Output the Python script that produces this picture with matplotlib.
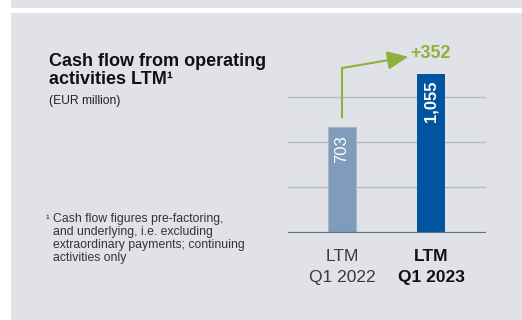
import matplotlib.pyplot as plt
from matplotlib.patches import Rectangle

# data
categories = ['LTM\nQ1 2022', 'LTM\nQ1 2023']
values = [703, 1055]
value_labels = ['703', '1,055']
grid_values = [300, 600, 900]

plt.rcParams['font.family'] = ['Liberation Sans', 'DejaVu Sans']

panel_bg = '#e1e2e8'
light_bar = '#7f9dba'
dark_bar = '#0054a0'
green = '#8cb13c'

fig = plt.figure(figsize=(5.22, 3.2), dpi=100)
fig.patch.set_facecolor('white')

W, H = 522, 320
# top strip and main panel
fig.patches.append(Rectangle((11 / W, 1 - 8 / H), 1, 8 / H, transform=fig.transFigure,
                             facecolor=panel_bg, edgecolor='none', zorder=-5))
fig.patches.append(Rectangle((11 / W, 0), 1, 1 - 13 / H, transform=fig.transFigure,
                             facecolor=panel_bg, edgecolor='none', zorder=-5))

# axes placement (pixel based)
ax_left, ax_right = 288, 486
ax_bottom, ax_top = 232.7, 40
ax = fig.add_axes([ax_left / W, 1 - ax_bottom / H, (ax_right - ax_left) / W, (ax_bottom - ax_top) / H])
ax.set_facecolor('none')
ax.set_xlim(-0.607, 1.618)
ax.set_ylim(0, 1278)

for g in grid_values:
    ax.axhline(g, color='#b3bac6', lw=1.0, zorder=1)

x = range(len(values))
bars = ax.bar(x, values, width=0.32, color=[light_bar, dark_bar], zorder=2)
bars[0].set_edgecolor('#a3b5c8')
bars[0].set_linewidth(0.8)
ax.axhline(0, color='#5c6d80', lw=1.6, zorder=3)

# values inside bars
ax.text(0, values[0] - 55, value_labels[0], rotation=90, ha='center', va='top',
        color='white', fontsize=12, zorder=4)
ax.text(1, values[1] - 45, value_labels[1], rotation=90, ha='center', va='top',
        color='white', fontsize=12, fontweight='bold', zorder=4)

# difference arrow
diff = values[1] - values[0]
ax.plot([0, 0], [values[0] + 57, values[1] + 37], color=green, lw=1.5,
        solid_capstyle='butt', zorder=4, clip_on=False)
ax.annotate('', xy=(0.745, values[1] + 112), xytext=(0, values[1] + 37),
            arrowprops=dict(arrowstyle='-|>,head_length=0.8,head_width=0.35',
                            color=green, lw=1.5,
                            mutation_scale=16, shrinkA=0, shrinkB=0),
            annotation_clip=False, zorder=4)
ax.text(0.765, values[1] + 135, f'+{diff}', color=green, fontsize=13,
        fontweight='bold', ha='left', va='center')

for s in ax.spines.values():
    s.set_visible(False)
ax.set_yticks([])
ax.set_xticks([])

# category labels
for i, cat in enumerate(categories):
    top, bottom = cat.split('\n')
    weight = 'bold' if i == 1 else 'normal'
    col = '#111111' if i == 1 else '#3a3a3a'
    ax.text(i, -160, top, ha='center', va='center', fontsize=12.5,
            fontweight=weight, color=col)
    ax.text(i, -295, bottom, ha='center', va='center', fontsize=12.5,
            fontweight=weight, color=col)

# title and notes
fig.text(49 / W, 1 - 61 / H, 'Cash flow from operating', fontsize=13,
         fontweight='bold', color='#111111', va='center')
fig.text(49 / W, 1 - 80 / H, 'activities LTM¹', fontsize=13,
         fontweight='bold', color='#111111', va='center')
fig.text(49 / W, 1 - 101 / H, '(EUR million)', fontsize=8.7, color='#222222', va='center')

fig.text(46 / W, 1 - 219 / H, '¹', fontsize=8, color='#333333', va='center')
notes = ['Cash flow figures pre-factoring,',
         'and underlying, i.e. excluding',
         'extraordinary payments; continuing',
         'activities only']
for k, line in enumerate(notes):
    fig.text(53 / W, 1 - (219 + 13 * k) / H, line, fontsize=8.8, color='#333333', va='center')

fig.savefig('out.png', dpi=100, facecolor=fig.get_facecolor())
